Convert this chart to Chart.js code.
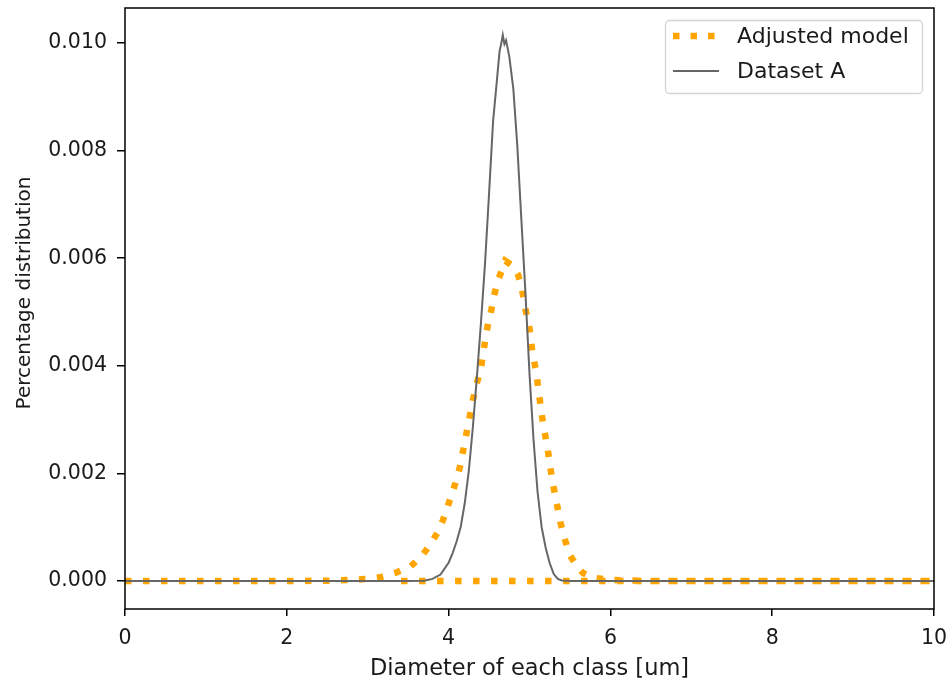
<!DOCTYPE html>
<html>
<head>
<meta charset="utf-8">
<script src="https://cdn.jsdelivr.net/npm/chart.js@4/dist/chart.umd.min.js"></script>
<style>
  html, body { margin: 0; padding: 0; background: #fff; }
  #wrap { width: 949px; height: 684px; }
</style>
</head>
<body>
<div id="wrap"><canvas id="sizeChart" width="949" height="684"></canvas></div>
<script>
// Dataset A (grey solid line)
const diamA = [0, 3.5, 3.7, 3.8, 3.9, 4.0, 4.05, 4.1, 4.15, 4.2, 4.25, 4.3, 4.35, 4.4, 4.45,
  4.5, 4.55, 4.6, 4.63, 4.65, 4.67, 4.69, 4.71, 4.75, 4.8, 4.85, 4.9, 4.95, 5.0, 5.05,
  5.1, 5.15, 5.2, 5.25, 5.3, 5.35, 5.4, 5.5, 6, 8, 10]
const valuesA = [0, 0, 0.000005, 0.00004, 0.00012, 0.00034, 0.00052, 0.00074, 0.00101, 0.00145,
  0.00205, 0.00286, 0.0038, 0.0048, 0.0059, 0.0072, 0.00855, 0.00935, 0.00985, 0.00998,
  0.01015, 0.00998, 0.01005, 0.00975, 0.00915, 0.00807, 0.0067, 0.00535, 0.00385, 0.00262,
  0.00165, 0.001, 0.00062, 0.00033, 0.00013, 0.00004, 0.00001, 0, 0, 0, 0]

// Adjusted model (orange dotted line), path runs back along zero at the end
const diamModel = [0, 0.5, 1.0, 1.5, 2.0, 2.5, 2.8, 3.0, 3.15, 3.34, 3.52, 3.65, 3.75, 3.86,
  3.93, 3.99, 4.07, 4.14, 4.2, 4.26, 4.3, 4.35, 4.4, 4.43, 4.46, 4.49, 4.52, 4.57, 4.61,
  4.66, 4.7, 4.75, 4.8, 4.86, 4.91, 4.95, 5.0, 5.04, 5.08, 5.12, 5.17, 5.22, 5.28, 5.33,
  5.38, 5.44, 5.5, 5.59, 5.66, 5.78, 6.0, 6.5, 7, 8, 9, 10, 3.4]
const valuesModel = [0, 0, 0, 0, 0, 0.000005, 0.00002, 0.00004, 0.00007, 0.00015, 0.00026,
  0.00043, 0.00063, 0.00089, 0.00113, 0.00139, 0.00175, 0.00212, 0.00258, 0.00305, 0.00336,
  0.00368, 0.00396, 0.00426, 0.00455, 0.0048, 0.00498, 0.00535, 0.00559, 0.00578, 0.00595,
  0.0059, 0.00585, 0.00569, 0.0054, 0.00505, 0.0047, 0.0042, 0.00392, 0.00345, 0.0029,
  0.0025, 0.00188, 0.0015, 0.0011, 0.00076, 0.00048, 0.00026, 0.00015, 0.00006, 0.00002,
  0, 0, 0, 0, 0, 0]

const xTicks = [0, 2, 4, 6, 8, 10]
const yTicks = [0, 0.002, 0.004, 0.006, 0.008, 0.010]

const legendNames = ['Adjusted model', 'Dataset A']
const yTitle = 'Percentage distribution'

const ORANGE = '#ffa500'
const GREY = '#666666'
const TEXT = '#1a1a1a'
const FONT = 'DejaVu Sans'

const toPoints = (xs, ys) => xs.map((x, i) => ({ x: x, y: ys[i] }))

// axes box, y title and a matplotlib style legend
const framePlugin = {
  id: 'frame',
  afterDraw(chart) {
    const ctx = chart.ctx
    const a = chart.chartArea
    ctx.save()
    ctx.strokeStyle = '#000'
    ctx.lineWidth = 1.5
    ctx.strokeRect(a.left, a.top, a.right - a.left, a.bottom - a.top)

    // y title
    ctx.save()
    ctx.translate(25, 293)
    ctx.rotate(-Math.PI / 2)
    ctx.fillStyle = TEXT
    ctx.font = '20px "' + FONT + '"'
    ctx.textAlign = 'center'
    ctx.textBaseline = 'middle'
    ctx.fillText(yTitle, 0, 0)
    ctx.restore()

    const bx = a.right - 269, by = a.top + 12, bw = 257, bh = 73
    ctx.beginPath()
    ctx.roundRect(bx + 0.5, by + 0.5, bw, bh, 4)
    ctx.fillStyle = 'rgba(255,255,255,0.8)'
    ctx.fill()
    ctx.strokeStyle = '#d4d4d4'
    ctx.lineWidth = 1.3
    ctx.stroke()

    ctx.beginPath()
    ctx.setLineDash([6.5, 11])
    ctx.strokeStyle = ORANGE
    ctx.lineWidth = 6.5
    ctx.moveTo(bx + 8, by + 16)
    ctx.lineTo(bx + 51, by + 16)
    ctx.stroke()

    ctx.beginPath()
    ctx.setLineDash([])
    ctx.strokeStyle = GREY
    ctx.lineWidth = 2
    ctx.moveTo(bx + 8, by + 51)
    ctx.lineTo(bx + 54, by + 51)
    ctx.stroke()

    ctx.fillStyle = TEXT
    ctx.font = '22px "' + FONT + '"'
    ctx.textBaseline = 'middle'
    ctx.textAlign = 'left'
    ctx.fillText(legendNames[0], bx + 72, by + 17)
    ctx.fillText(legendNames[1], bx + 72, by + 52)
    ctx.restore()
  }
}

const config = {
  type: 'line',
  data: {
    datasets: [{
      label: legendNames[0],
      data: toPoints(diamModel, valuesModel),
      borderColor: ORANGE,
      borderWidth: 6.5,
      borderDash: [6.5, 11.5],
      borderCapStyle: 'butt',
      pointRadius: 0,
      fill: false,
      tension: 0,
      order: 2,
    }, {
      label: legendNames[1],
      data: toPoints(diamA, valuesA),
      borderColor: GREY,
      borderWidth: 2,
      pointRadius: 0,
      fill: false,
      tension: 0,
      order: 1,
    }],
  },
  options: {
    responsive: false,
    animation: false,
    events: [],
    layout: { padding: { left: 0, top: 8, right: 15, bottom: 0 } },
    plugins: { legend: { display: false }, tooltip: { enabled: false } },
    scales: {
      x: {
        type: 'linear',
        min: 0,
        max: 10,
        afterBuildTicks: (s) => { s.ticks = xTicks.map(v => ({ value: v })) },
        afterFit: (s) => { s.height = 75; s.paddingLeft = 0; s.paddingRight = 0 },
        border: { display: false },
        grid: { drawOnChartArea: false, drawTicks: true, tickLength: 7, color: '#000', lineWidth: 1.5 },
        ticks: { color: TEXT, font: { family: FONT, size: 20.5 }, padding: 10, maxRotation: 0,
          callback: (v) => String(v) },
        title: { display: true, text: 'Diameter of each class [um]', color: TEXT,
          font: { family: FONT, size: 22.5 }, padding: { top: 0, bottom: 1 } },
      },
      y: {
        type: 'linear',
        min: -0.00052,
        max: 0.01065,
        afterBuildTicks: (s) => { s.ticks = yTicks.map(v => ({ value: v })) },
        afterFit: (s) => { s.width = 125; s.paddingTop = 0; s.paddingBottom = 0 },
        border: { display: false },
        grid: { drawOnChartArea: false, drawTicks: true, tickLength: 8, color: '#000', lineWidth: 1.5 },
        ticks: { color: TEXT, font: { family: FONT, size: 20.5 }, padding: 10,
          callback: (v) => Number(v).toFixed(3) },
        title: { display: false },
      },
    },
  },
  plugins: [framePlugin],
}

const sizeChart = new Chart(document.getElementById('sizeChart').getContext('2d'), config)
</script>
</body>
</html>
